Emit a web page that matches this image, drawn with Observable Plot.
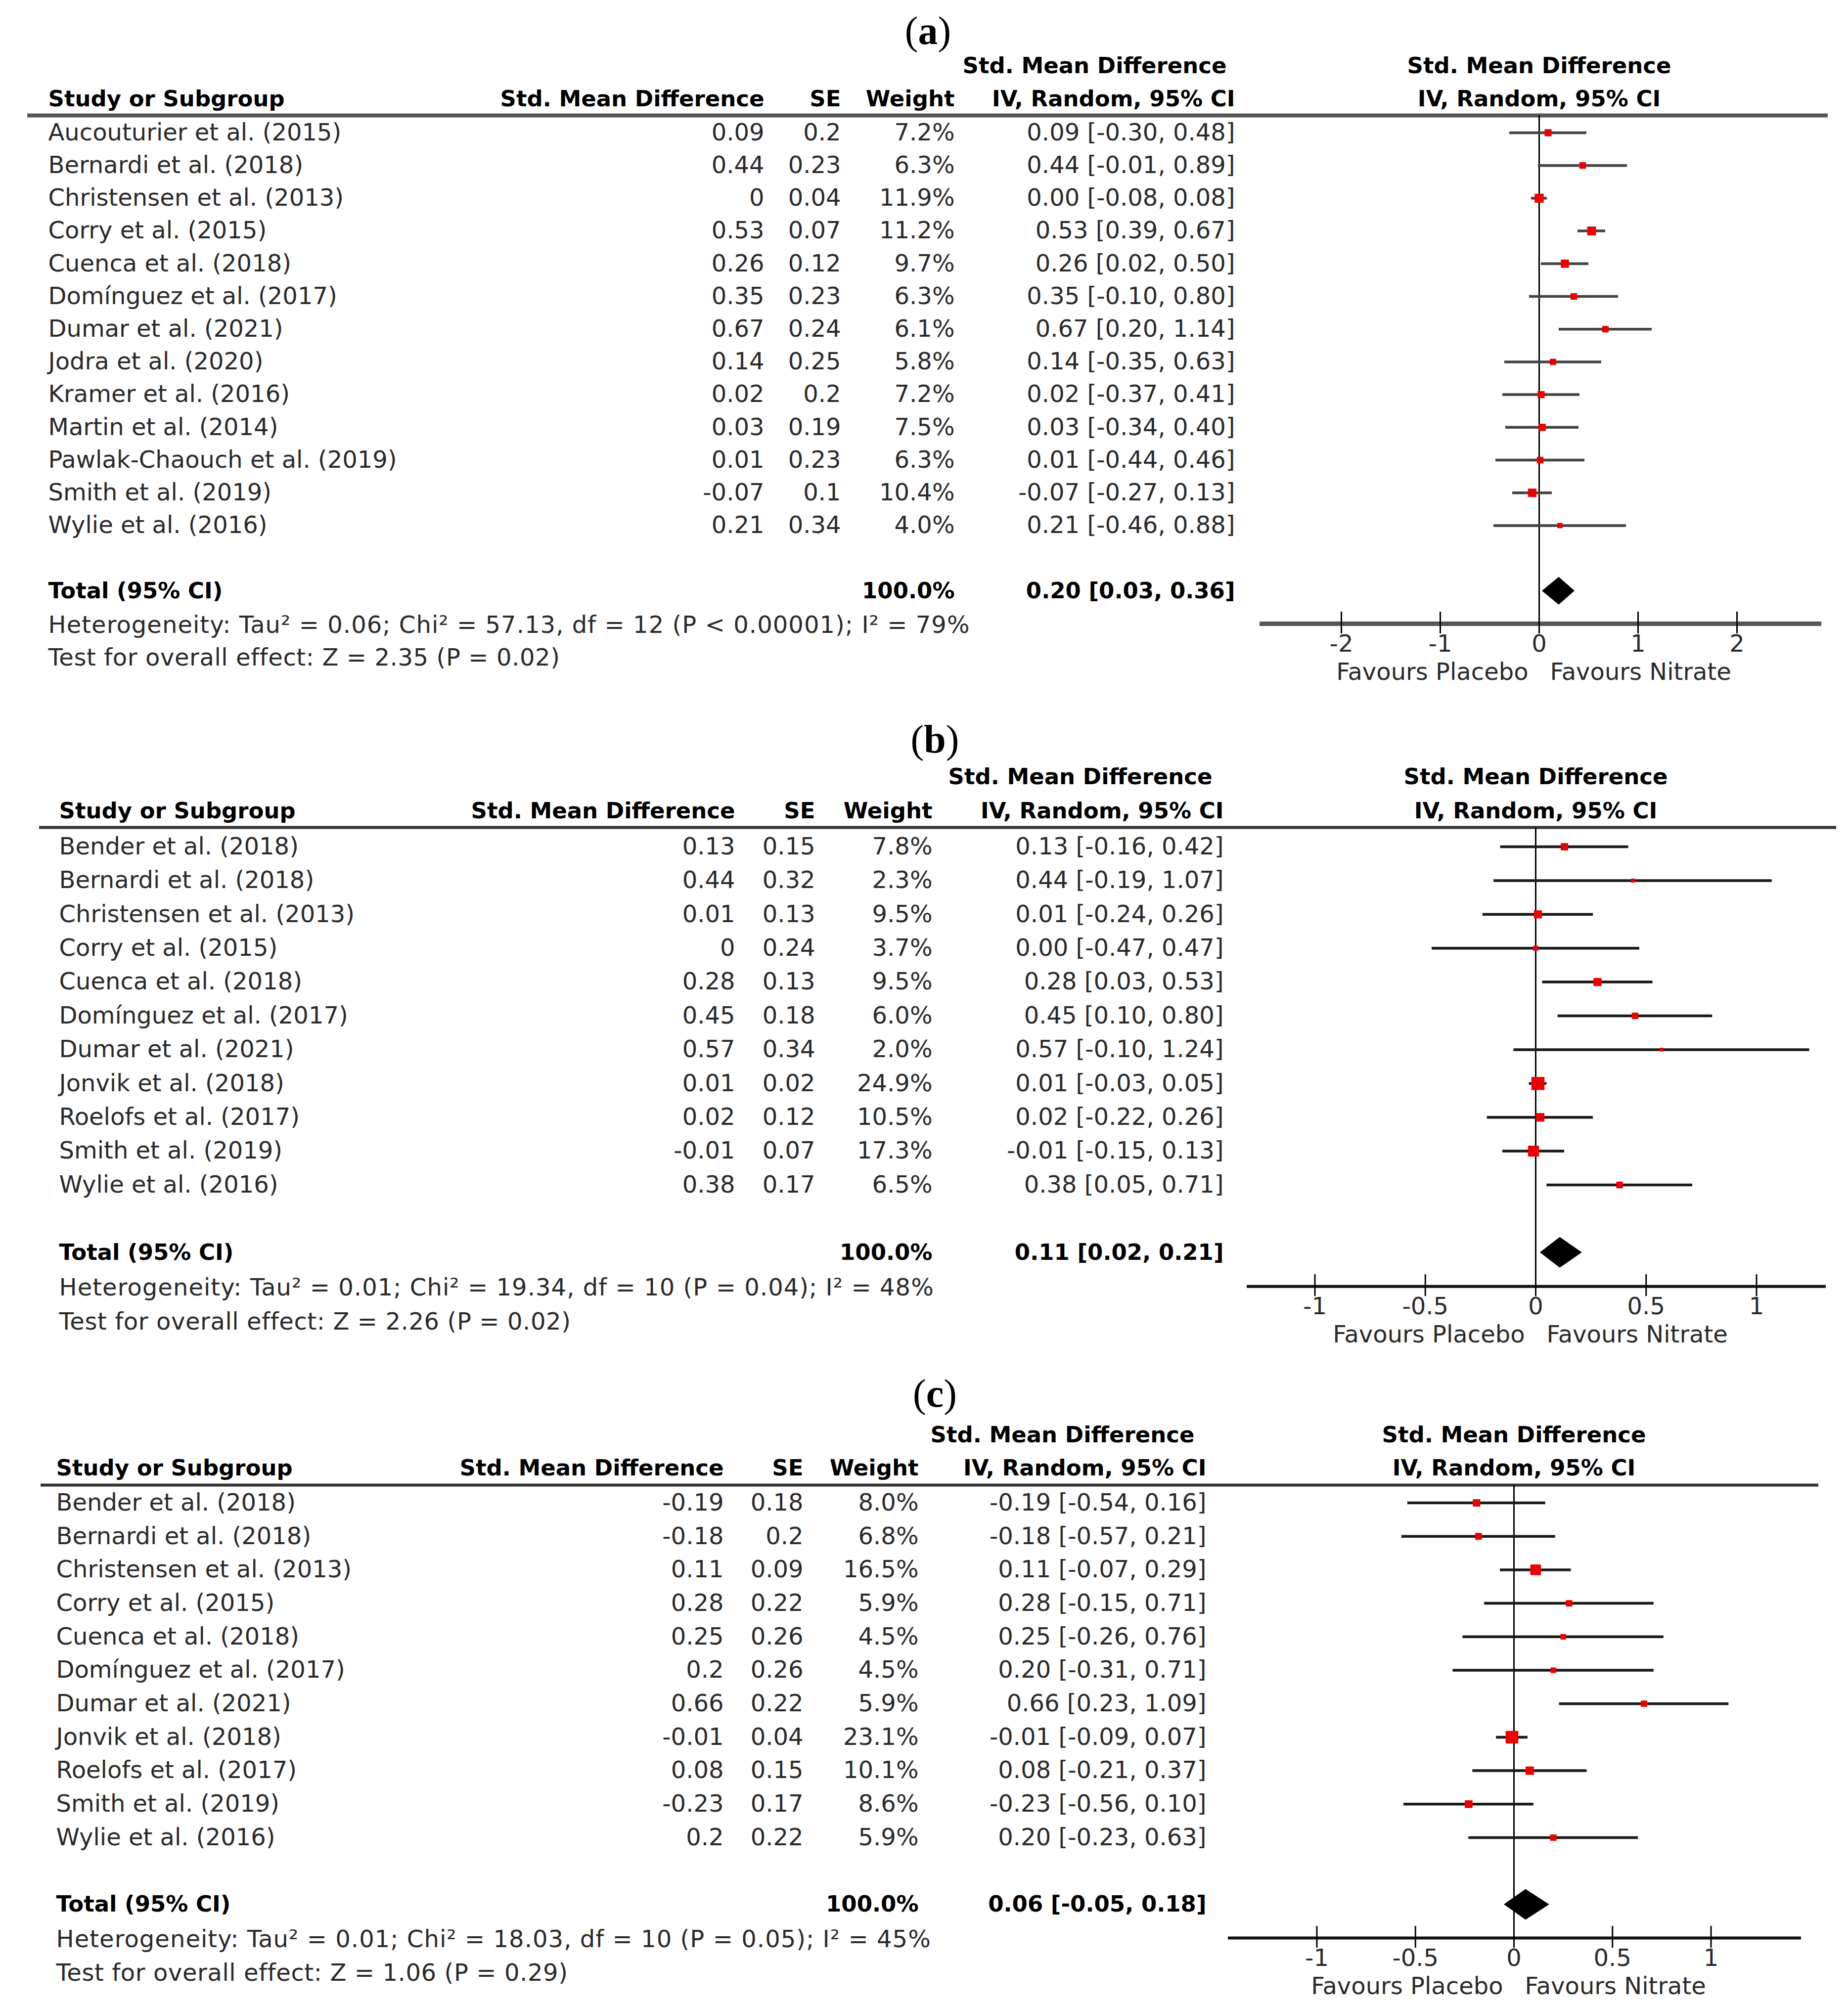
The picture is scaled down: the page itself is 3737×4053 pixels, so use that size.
<!DOCTYPE html>
<html><head><meta charset="utf-8">
<script src="https://cdn.jsdelivr.net/npm/d3@7"></script>
<script src="https://cdn.jsdelivr.net/npm/@observablehq/plot@0.6"></script>
<style>
body{margin:0;background:#fff;}
#root{position:relative;width:3737px;height:4053px;background:#fff;overflow:hidden;}
.panel{position:absolute;left:0;}
.lab{position:absolute;width:3737px;text-align:center;font-family:"Liberation Serif","DejaVu Serif",serif;font-size:80px;line-height:1;color:#000;}
</style></head><body><div id="root"></div>
<script>
// ---------- DATA ----------
// Panel (a)
const studiesA = ["Aucouturier et al. (2015)","Bernardi et al. (2018)","Christensen et al. (2013)","Corry et al. (2015)","Cuenca et al. (2018)","Domínguez et al. (2017)","Dumar et al. (2021)","Jodra et al. (2020)","Kramer et al. (2016)","Martin et al. (2014)","Pawlak-Chaouch et al. (2019)","Smith et al. (2019)","Wylie et al. (2016)"];
const smdA = [0.09,0.44,0,0.53,0.26,0.35,0.67,0.14,0.02,0.03,0.01,-0.07,0.21];
const seA = [0.2,0.23,0.04,0.07,0.12,0.23,0.24,0.25,0.2,0.19,0.23,0.1,0.34];
const weightA = [7.2,6.3,11.9,11.2,9.7,6.3,6.1,5.8,7.2,7.5,6.3,10.4,4.0];
const loA = [-0.30,-0.01,-0.08,0.39,0.02,-0.10,0.20,-0.35,-0.37,-0.34,-0.44,-0.27,-0.46];
const hiA = [0.48,0.89,0.08,0.67,0.50,0.80,1.14,0.63,0.41,0.40,0.46,0.13,0.88];
const totalA = [0.20,0.03,0.36];
const hetA = "Heterogeneity: Tau² = 0.06; Chi² = 57.13, df = 12 (P < 0.00001); I² = 79%";
const testA = "Test for overall effect: Z = 2.35 (P = 0.02)";
const ticksA = [-2,-1,0,1,2];

// Panel (b)
const studiesB = ["Bender et al. (2018)","Bernardi et al. (2018)","Christensen et al. (2013)","Corry et al. (2015)","Cuenca et al. (2018)","Domínguez et al. (2017)","Dumar et al. (2021)","Jonvik et al. (2018)","Roelofs et al. (2017)","Smith et al. (2019)","Wylie et al. (2016)"];
const smdB = [0.13,0.44,0.01,0,0.28,0.45,0.57,0.01,0.02,-0.01,0.38];
const seB = [0.15,0.32,0.13,0.24,0.13,0.18,0.34,0.02,0.12,0.07,0.17];
const weightB = [7.8,2.3,9.5,3.7,9.5,6.0,2.0,24.9,10.5,17.3,6.5];
const loB = [-0.16,-0.19,-0.24,-0.47,0.03,0.10,-0.10,-0.03,-0.22,-0.15,0.05];
const hiB = [0.42,1.07,0.26,0.47,0.53,0.80,1.24,0.05,0.26,0.13,0.71];
const totalB = [0.11,0.02,0.21];
const hetB = "Heterogeneity: Tau² = 0.01; Chi² = 19.34, df = 10 (P = 0.04); I² = 48%";
const testB = "Test for overall effect: Z = 2.26 (P = 0.02)";
const ticksB = [-1,-0.5,0,0.5,1];

// Panel (c)
const studiesC = ["Bender et al. (2018)","Bernardi et al. (2018)","Christensen et al. (2013)","Corry et al. (2015)","Cuenca et al. (2018)","Domínguez et al. (2017)","Dumar et al. (2021)","Jonvik et al. (2018)","Roelofs et al. (2017)","Smith et al. (2019)","Wylie et al. (2016)"];
const smdC = [-0.19,-0.18,0.11,0.28,0.25,0.2,0.66,-0.01,0.08,-0.23,0.2];
const seC = [0.18,0.2,0.09,0.22,0.26,0.26,0.22,0.04,0.15,0.17,0.22];
const weightC = [8.0,6.8,16.5,5.9,4.5,4.5,5.9,23.1,10.1,8.6,5.9];
const loC = [-0.54,-0.57,-0.07,-0.15,-0.26,-0.31,0.23,-0.09,-0.21,-0.56,-0.23];
const hiC = [0.16,0.21,0.29,0.71,0.76,0.71,1.09,0.07,0.37,0.10,0.63];
const totalC = [0.06,-0.05,0.18];
const hetC = "Heterogeneity: Tau² = 0.01; Chi² = 18.03, df = 10 (P = 0.05); I² = 45%";
const testC = "Test for overall effect: Z = 1.06 (P = 0.29)";
const ticksC = [-1,-0.5,0,0.5,1];

const panelLabels = ["a","b","c"];
const colHeads = ["Study or Subgroup","Std. Mean Difference","SE","Weight"];
const ciHead = ["Std. Mean Difference","IV, Random, 95% CI"];
const favours = ["Favours Placebo","Favours Nitrate"];
const totalLabel = "Total (95% CI)";
const totalWeight = "100.0%";

// ---------- LAYOUT (pixels) ----------
const W = 3737;
const layouts = [
  {top:0, height:1440, row0:268, step:66.2, h1:-135, h2:-68, rule:-35, dia:28,
   ruleL:55, ruleR:3696, colStudy:97, colSmd:1545, colSe:1700, colW:1930, colCi:2497, h1End:2480,
   zero:3112, ppu:200, axisL:2547, axisR:3683, axisColor:"#555", axisW:9, ruleColor:"#555", ruleW:8, ciColor:"#444",
   labTop:22, labShift:8},
  {top:1440, height:1330, row0:272, step:68.4, h1:-141, h2:-72, rule:-39, dia:31,
   ruleL:79, ruleR:3713, colStudy:119, colSmd:1486, colSe:1648, colW:1885, colCi:2474, h1End:2451,
   zero:3105, ppu:446.5, axisL:2521, axisR:3692, axisColor:"#111", axisW:6, ruleColor:"#333", ruleW:6, ciColor:"#1a1a1a",
   labTop:1455, labShift:22},
  {top:2770, height:1283, row0:269, step:67.7, h1:-137, h2:-70, rule:-36, dia:31,
   ruleL:82, ruleR:3677, colStudy:113, colSmd:1463, colSe:1624, colW:1857, colCi:2439, h1End:2415,
   zero:3061, ppu:398.5, axisL:2483, axisR:3642, axisColor:"#111", axisW:6, ruleColor:"#333", ruleW:6, ciColor:"#1a1a1a",
   labTop:2778, labShift:22}
];

function dash(v){ return v < 0 ? "-" : ""; }
function f2(v){ return dash(v) + Math.abs(v).toFixed(2); }
function raw(v){ return dash(v) + String(Math.abs(v)); }
function ciText(e,l,h){ return f2(e) + " [" + f2(l) + ", " + f2(h) + "]"; }

function panel(d, L){
  const n = d.studies.length;
  const rows = d.studies.map((s,i)=>({i, study:s, smd:d.smd[i], se:d.se[i], w:d.weight[i], lo:d.lo[i], hi:d.hi[i]}));
  const px = p => p / L.step;
  const totalRow = n + 1, axisRow = n + 2, hetRow = n + 2.05, testRow = n + 3.05;
  const ruleRow = px(L.rule), h1 = px(L.h1), h2 = px(L.h2);
  const [est, tlo, thi] = d.total;
  const dh = px(L.dia);
  const diamond = [{x:tlo, y1:totalRow, y2:totalRow},{x:est, y1:totalRow-dh, y2:totalRow+dh},{x:thi, y1:totalRow, y2:totalRow}];
  const txt = "#2a2a2a";
  const R = 48, B = 45;
  const left = (data, opts) => Plot.text(data, {frameAnchor:"left", textAnchor:"start", ...opts});
  const right = (data, opts) => Plot.text(data, {frameAnchor:"left", textAnchor:"end", ...opts});
  const marks = [
    Plot.ruleY([ruleRow], {y:v=>v, insetLeft:L.ruleL, insetRight:W-L.ruleR, stroke:L.ruleColor, strokeWidth:L.ruleW}),
    Plot.ruleX([0], {x:v=>v, y1:()=>ruleRow, y2:()=>axisRow, stroke:"#000", strokeWidth:3}),
    Plot.ruleY([axisRow], {y:v=>v, insetLeft:L.axisL, insetRight:W-L.axisR, stroke:L.axisColor, strokeWidth:L.axisW}),
    Plot.ruleX(d.ticks, {x:v=>v, y1:()=>axisRow-px(24), y2:()=>axisRow+px(20), stroke:"#000", strokeWidth:3}),
    Plot.text(d.ticks, {x:v=>v, y:()=>axisRow, dy:41, text:raw, fontSize:R, fill:txt}),
    Plot.text([favours[0]], {x:()=>0, y:()=>axisRow, dy:98, dx:-22, textAnchor:"end", fontSize:R, fill:txt}),
    Plot.text([favours[1]], {x:()=>0, y:()=>axisRow, dy:98, dx:22, textAnchor:"start", fontSize:R, fill:txt}),
    Plot.ruleY(rows, {y:"i", x1:"lo", x2:"hi", stroke:L.ciColor, strokeWidth:5.5}),
    Plot.dot(rows, {x:"smd", y:"i", r:"w", symbol:"square", fill:"#ee0000", stroke:"none"}),
    Plot.areaY(diamond, {x:"x", y1:"y1", y2:"y2", fill:"#000", curve:"linear"}),
    left([colHeads[0]], {y:()=>h2, dx:L.colStudy, fontWeight:"bold", fontSize:B, fill:"#000"}),
    right([colHeads[1]], {y:()=>h2, dx:L.colSmd, fontWeight:"bold", fontSize:B, fill:"#000"}),
    right([colHeads[2]], {y:()=>h2, dx:L.colSe, fontWeight:"bold", fontSize:B, fill:"#000"}),
    right([colHeads[3]], {y:()=>h2, dx:L.colW, fontWeight:"bold", fontSize:B, fill:"#000"}),
    right([ciHead[0]], {y:()=>h1, dx:L.h1End, fontWeight:"bold", fontSize:B, fill:"#000"}),
    right([ciHead[1]], {y:()=>h2, dx:L.colCi, fontWeight:"bold", fontSize:B, fill:"#000"}),
    Plot.text([ciHead[0]], {x:()=>0, y:()=>h1, fontWeight:"bold", fontSize:B, fill:"#000"}),
    Plot.text([ciHead[1]], {x:()=>0, y:()=>h2, fontWeight:"bold", fontSize:B, fill:"#000"}),
    left(rows, {y:"i", text:"study", dx:L.colStudy, fontSize:R, fill:txt}),
    right(rows, {y:"i", text:r=>raw(r.smd), dx:L.colSmd, fontSize:R, fill:txt}),
    right(rows, {y:"i", text:r=>raw(r.se), dx:L.colSe, fontSize:R, fill:txt}),
    right(rows, {y:"i", text:r=>r.w.toFixed(1)+"%", dx:L.colW, fontSize:R, fill:txt}),
    right(rows, {y:"i", text:r=>ciText(r.smd,r.lo,r.hi), dx:L.colCi, fontSize:R, fill:txt}),
    left([totalLabel], {y:()=>totalRow, dx:L.colStudy, fontWeight:"bold", fontSize:B, fill:"#000"}),
    right([totalWeight], {y:()=>totalRow, dx:L.colW, fontWeight:"bold", fontSize:B, fill:"#000"}),
    right([ciText(est,tlo,thi)], {y:()=>totalRow, dx:L.colCi, fontWeight:"bold", fontSize:B, fill:"#000"}),
    left([d.het], {y:()=>hetRow, dx:L.colStudy, fontSize:R, fill:txt}),
    left([d.test], {y:()=>testRow, dx:L.colStudy, fontSize:R, fill:txt})
  ];
  const svg = Plot.plot({
    width: W, height: L.height,
    marginLeft:0, marginRight:0, marginTop:0, marginBottom:0,
    x: {domain:[(L.axisL-L.zero)/L.ppu, (L.axisR-L.zero)/L.ppu], range:[L.axisL, L.axisR], axis:null},
    y: {domain:[0,1], range:[L.row0, L.row0+L.step], axis:null},
    r: {type:"sqrt", domain:[0,25], range:[0,15]},
    style: {fontFamily:"'DejaVu Sans', Verdana, sans-serif", fontSize:"48px", background:"transparent", color:"#000", overflow:"visible"},
    marks
  });
  d3.select(svg).selectAll("text").filter(function(){ return this.textContent === d.het; }).attr("letter-spacing", "1.05px");
  d3.select(svg).selectAll("text").filter(function(){ return this.textContent === d.test; }).attr("letter-spacing", "0.6px");
  return svg;
}

const datasets = [
  {studies:studiesA, smd:smdA, se:seA, weight:weightA, lo:loA, hi:hiA, total:totalA, het:hetA, test:testA, ticks:ticksA},
  {studies:studiesB, smd:smdB, se:seB, weight:weightB, lo:loB, hi:hiB, total:totalB, het:hetB, test:testB, ticks:ticksB},
  {studies:studiesC, smd:smdC, se:seC, weight:weightC, lo:loC, hi:hiC, total:totalC, het:hetC, test:testC, ticks:ticksC}
];

const root = document.getElementById("root");
datasets.forEach((d, k) => {
  const L = layouts[k];
  const svg = panel(d, L);
  const wrap = document.createElement("div");
  wrap.className = "panel";
  wrap.style.top = L.top + "px";
  wrap.appendChild(svg);
  root.appendChild(wrap);
});
datasets.forEach((d, k) => {
  const L = layouts[k];
  const lab = document.createElement("div");
  lab.className = "lab";
  lab.style.top = L.labTop + "px";
  lab.style.left = L.labShift + "px";
  lab.innerHTML = "(<b>" + panelLabels[k] + "</b>)";
  root.appendChild(lab);
});
</script></body></html>
